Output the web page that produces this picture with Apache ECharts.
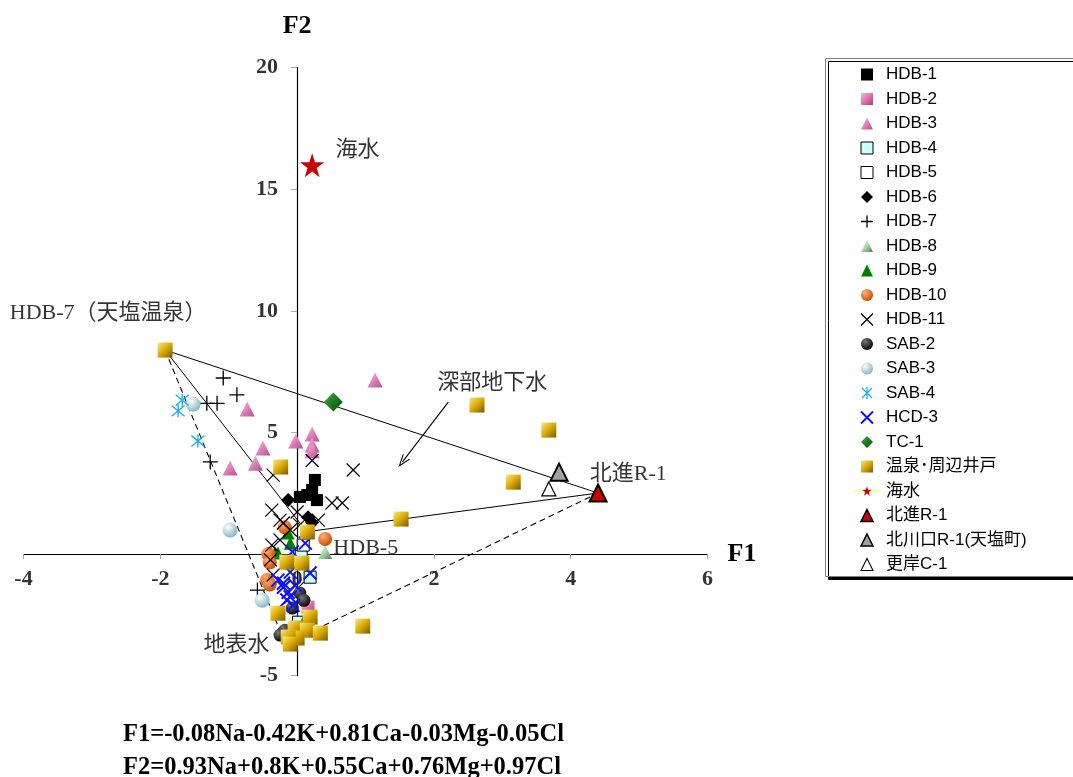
<!DOCTYPE html>
<html><head><meta charset="utf-8">
<script src="https://cdn.jsdelivr.net/npm/echarts@6/dist/echarts.min.js"></script>
<style>html,body{margin:0;padding:0;background:#fff}#c{width:1073px;height:777px}</style>
</head><body><div id="c"></div>
<script>
// ---- data (F1, F2) ----
const hdb1 = [[0.26,3.05],[0.22,2.64],[0.29,2.22],[0.15,2.43],[0.04,2.35]];
const hdb2 = [[0.16,-2.18]];
const hdb3 = [[1.14,7.16],[-0.73,5.97],[-0.02,4.65],[0.22,4.94],[0.22,4.49],[0.22,4.25],[-0.5,4.36],[-0.61,3.74],[-0.98,3.54]];
const hdb4 = [[0.19,-0.95],[0.02,-2.8],[0.06,-0.1]];
const hdb5 = [[0.09,0.37]];
const hdb6 = [[-0.13,2.22],[0.16,1.52],[0.22,1.3]];
const hdb7 = [[-1.08,7.24],[-0.88,6.55],[-1.17,6.2],[-1.32,6.2],[-1.27,3.79],[-0.58,-1.48]];
const hdb8 = [[0.41,0.09]];
const hdb9 = [[-0.13,0.87],[-0.28,0.05],[-0.1,0.45],[0.09,-2.8]];
const hdb10 = [[-0.18,1.1],[0.41,0.62],[-0.42,0.0],[-0.4,-0.35],[-0.44,-1.06],[-0.4,-1.25]];
const hdb11 = [[-0.35,3.25],[0.22,3.85],[0.82,3.46],[0.51,2.1],[0.66,2.1],[-0.37,1.81],[-0.2,1.28],[0.31,1.4],[0,1.73],[0.04,1.2],[-0.1,0.99],[-0.25,0.58],[-0.37,0.37],[-0.39,-0.24],[-0.35,-0.86],[0.01,-1.4],[-0.25,1.4]];
const sab2 = [[0.04,-1.6],[-0.07,-2.22],[-0.18,-3.13],[-0.25,-3.33],[0.1,-1.9]];
const sab3 = [[-1.52,6.16],[-0.98,0.99],[-0.51,-1.9]];
const sab4 = [[-1.68,6.33],[-1.74,5.89],[-1.45,4.65]];
const hcd3 = [[-0.07,0.09],[-0.1,-0.74],[0.19,-0.78],[-0.28,-1.07],[-0.2,-1.36],[-0.13,-1.57],[-0.15,-1.89],[-0.1,-1.77],[-0.2,-1.2],[-0.03,-1.29],[-0.06,-2.1],[0.12,0.45]];
const tc1 = [[0.53,6.25]];
const onsen = [[-1.93,8.39],[2.63,6.13],[3.68,5.1],[3.16,2.96],[1.52,1.44],[-0.24,3.58],[0.15,0.91],[-0.15,-0.33],[0.07,-0.37],[-0.28,-2.43],[0.19,-2.59],[-0.03,-3.04],[0.15,-3.13],[0.34,-3.25],[0,-3.45],[-0.13,-3.41],[0.96,-2.96],[-0.1,-3.7]];
const seawater = [[0.22,15.99]];
const hokushin = [[4.40,2.51]];
const kitakawaguchi = [[3.83,3.37]];
const sarakishi = [[3.68,2.68]];

// mixing triangles and arrow
const solidTriangle = [[-1.93,8.39],[4.40,2.51],[0.14,0.92],[-1.93,8.39]];
const dashedTriangle = [[-1.93,8.39],[-0.17,-3.7],[4.40,2.51]];
const arrowStart = [2.21,6.25];
const arrowEnd = [1.54,3.79];

// annotations
const annoText = ['海水','HDB-7（天塩温泉）','深部地下水','北進R-1','HDB-5','地表水'];
const annoX = [0.56,-4.2,2.05,4.28,0.53,-1.37];
const annoY = [16.62,9.91,7.04,3.29,0.25,-3.74];

// axes and tick labels
const xMin = -4, xMax = 6, xStep = 2;
const yMin = -5, yMax = 20, yStep = 5;
const xTickLabels = [-4,-2,0,2,4,6];
const yTickLabels = [-5,0,5,10,15,20];
const formulaLines = ['F1=-0.08Na-0.42K+0.81Ca-0.03Mg-0.05Cl','F2=0.93Na+0.8K+0.55Ca+0.76Mg+0.97Cl'];

// ---- styles ----
const lin = (a,b,c) => new echarts.graphic.LinearGradient(0,0,1,1,[{offset:0,color:a},{offset:0.5,color:b},{offset:1,color:c}]);
const rad = (a,b) => new echarts.graphic.RadialGradient(0.35,0.3,0.75,[{offset:0,color:a},{offset:1,color:b}]);
const PLUS = 'path://M0,5L10,5M5,0L5,10';
const CROSS = 'path://M0,0L10,10M10,0L0,10';
const ASTER = 'path://M0,0L10,10M10,0L0,10M5,-1L5,11';
const SQUARE = 'path://M0,0L10,0L10,10L0,10Z';
const TRI = 'path://M5,0L10,10L0,10Z';
const DIAM = 'path://M5,0L10,5L5,10L0,5Z';

function sc(name, data, symbol, size, itemStyle){
  return {type:'scatter', name, data, symbol, symbolSize:size, itemStyle:Object.assign({opacity:1}, itemStyle), clip:false, silent:true, z:3};
}
const tickFont = {fontFamily:'Liberation Serif', fontWeight:'bold', fontSize:22, color:'#000'};
const series = [
  {type:'scatter', name:'xTicks', silent:true, clip:false, symbolSize:0, z:1,
   data: xTickLabels.map(v=>({value:[v,0], name:String(v)})),
   label:Object.assign({show:true, position:'bottom', distance:14, formatter:p=>p.name}, tickFont)},
  {type:'scatter', name:'yTicks', silent:true, clip:false, symbolSize:0, z:1,
   data: yTickLabels.map(v=>({value:[0,v], name:String(v)})),
   label:Object.assign({show:true, position:'left', distance:19, formatter:p=>p.name}, tickFont)},
  {type:'line', name:'solidTri', data:solidTriangle, symbol:'none', silent:true, clip:false, z:2,
   lineStyle:{color:'#000', width:1},
   markLine:{silent:true, animation:false, symbol:['none','path://M5,0L10,10L8.8,10L5,2.4L1.2,10L0,10Z'], symbolSize:[9,13],
     lineStyle:{color:'#000', width:1.1, type:'solid'}, label:{show:false},
     data:[[{coord:arrowStart},{coord:arrowEnd}]]}},
  {type:'line', name:'dashTri', data:dashedTriangle, symbol:'none', silent:true, clip:false, z:2,
   lineStyle:{color:'#000', width:1.1, type:[6,4]}},
  sc('HDB-1', hdb1, 'rect', 12, {color:'#000'}),
  sc('HDB-2', hdb2, 'rect', 13, {color:lin('#f6b8dc','#e070b0','#a04080')}),
  sc('HDB-3', hdb3, 'triangle', 15, {color:lin('#f8c0e0','#e080b8','#b05090')}),
  sc('HDB-4', hdb4, 'rect', 12, {color:'#ccffff', borderColor:'#000', borderWidth:1}),
  sc('HDB-5', hdb5, 'rect', 12, {color:'#fff', borderColor:'#000', borderWidth:1}),
  sc('HDB-6', hdb6, 'diamond', 14, {color:'#000'}),
  sc('HDB-7', hdb7, PLUS, 15, {color:'transparent', borderColor:'#000', borderWidth:1.3}),
  sc('HDB-8', hdb8, 'triangle', 14, {color:lin('#e8fbe8','#a8d8a8','#507850')}),
  sc('HDB-9', hdb9, 'triangle', 13, {color:'#008000'}),
  sc('HDB-10', hdb10, 'circle', 14, {color:rad('#ffb070','#c84800')}),
  sc('HDB-11', hdb11, CROSS, 13, {color:'transparent', borderColor:'#000', borderWidth:1.2}),
  sc('SAB-2', sab2, 'circle', 13, {color:rad('#777','#000')}),
  sc('SAB-3', sab3, 'circle', 15, {color:rad('#ffffff','#7eb4c0')}),
  sc('SAB-4', sab4, ASTER, 13, {color:'transparent', borderColor:'#1ab0ee', borderWidth:1.4}),
  sc('HCD-3', hcd3, CROSS, 13, {color:'transparent', borderColor:'#1010ff', borderWidth:2}),
  sc('TC-1', tc1, 'diamond', 19, {color:lin('#50b050','#1a7a1a','#0a4a0a')}),
  sc('温泉･周辺井戸', onsen, 'rect', 15, {color:lin('#fbe880','#d8a800','#7a5800')}),
  {type:'line', name:'海水', data:seawater, symbol:'path://M50,0L61.8,36.2L100,36.2L69.1,58.5L80.9,95.1L50,72.6L19.1,95.1L30.9,58.5L0,36.2L38.2,36.2Z', symbolSize:24, showSymbol:true, z:3,
   itemStyle:{color:'#cc0000', opacity:1}, lineStyle:{color:'#ffff99', width:2}, silent:true, clip:false},
  sc('北進R-1', hokushin, 'triangle', 17, {color:'#d00000', borderColor:'#000', borderWidth:2}),
  sc('北川口R-1(天塩町)', kitakawaguchi, 'triangle', 17, {color:'#a0a0a0', borderColor:'#000', borderWidth:2}),
  sc('更岸C-1', sarakishi, 'triangle', 14, {color:'#fff', borderColor:'#000', borderWidth:1.2}),
  {type:'scatter', name:'anno', silent:true, clip:false, symbolSize:0, z:4,
   data: annoText.map((t,i)=>({value:[annoX[i], annoY[i]], name:t})),
   label:{show:true, position:'right', distance:0, formatter:p=>p.name, color:'#000',
          fontSize:22, fontFamily:'Liberation Serif, Noto Sans CJK JP'}}
];

const legendNames = ['HDB-1','HDB-2','HDB-3','HDB-4','HDB-5','HDB-6','HDB-7','HDB-8','HDB-9','HDB-10','HDB-11','SAB-2','SAB-3','SAB-4','HCD-3','TC-1','温泉･周辺井戸','海水','北進R-1','北川口R-1(天塩町)','更岸C-1'];
const legendIcons = {'HDB-1':SQUARE,'HDB-2':SQUARE,'HDB-3':TRI,'HDB-4':SQUARE,'HDB-5':SQUARE,'HDB-6':DIAM,
  'HDB-8':TRI,'HDB-9':TRI,'TC-1':DIAM,'温泉･周辺井戸':SQUARE,'北進R-1':TRI,'北川口R-1(天塩町)':TRI,'更岸C-1':TRI};
const legendBorder = {'HDB-4':1,'HDB-5':1,'HDB-7':1.3,'HDB-11':1.2,'SAB-4':1.3,'HCD-3':2,'北進R-1':1.5,'北川口R-1(天塩町)':1.5,'更岸C-1':1.1};
const legendData = legendNames.map(n => {
  const o = {name:n};
  if (legendIcons[n]) o.icon = legendIcons[n];
  if (legendBorder[n]) o.itemStyle = {borderWidth:legendBorder[n]};
  return o;
});

const chart = echarts.init(document.getElementById('c'), null, {renderer:'canvas'});
chart.setOption({
  animation:false,
  backgroundColor:'#fff',
  grid:{left:23.5, right:365.5, top:67.7, bottom:101.3, containLabel:false, outerBoundsMode:'none'},
  xAxis:{type:'value', min:xMin, max:xMax, interval:xStep, position:'bottom',
     axisLine:{onZero:true, lineStyle:{color:'#000', width:1.2}},
     axisTick:{show:true, length:5, lineStyle:{color:'#aaa'}},
     axisLabel:{show:false}, splitLine:{show:false},
     name:'F1', nameLocation:'end', nameGap:20,
     nameTextStyle:{fontFamily:'Liberation Serif', fontWeight:'bold', fontSize:26, color:'#000', verticalAlign:'middle'}},
  yAxis:{type:'value', min:yMin, max:yMax, interval:yStep, position:'left',
     axisLine:{onZero:true, lineStyle:{color:'#000', width:1.2}},
     axisTick:{show:true, length:6, lineStyle:{color:'#aaa'}},
     axisLabel:{show:false}, splitLine:{show:false},
     name:'F2', nameLocation:'end', nameGap:28,
     nameTextStyle:{fontFamily:'Liberation Serif', fontWeight:'bold', fontSize:26, color:'#000', align:'center'}},
  legend:{orient:'vertical', left:847, top:61, itemWidth:28, itemHeight:12, itemGap:7.5,
    selectedMode:false, symbolKeepAspect:true, data:legendData,
    textStyle:{fontSize:17, lineHeight:17, color:'#000', fontFamily:'Liberation Sans, Noto Sans CJK JP'}},
  graphic:[
    {type:'rect', z:-1, shape:{x:825.5, y:58.5, width:300, height:518},
     style:{fill:'#fff', stroke:'#808080', lineWidth:1, shadowColor:'#000', shadowOffsetX:3, shadowOffsetY:3, shadowBlur:0}},
    {type:'text', left:123, top:722, style:{text:formulaLines[0], fontFamily:'Liberation Serif', fontWeight:'bold', fontSize:24.5, fill:'#000'}},
    {type:'text', left:123, top:755, style:{text:formulaLines[1], fontFamily:'Liberation Serif', fontWeight:'bold', fontSize:24.5, fill:'#000'}}
  ],
  series:series
});
</script></body></html>
